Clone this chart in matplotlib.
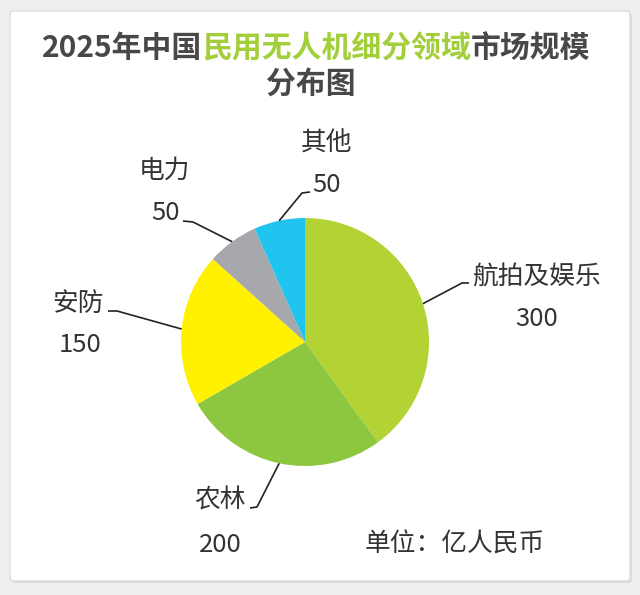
import matplotlib
matplotlib.use("Agg")
import matplotlib.pyplot as plt
from matplotlib.patches import FancyBboxPatch
import numpy as np

plt.rcParams['font.family'] = ['Noto Sans CJK SC', 'DejaVu Sans']

categories = ['航拍及娱乐', '农林', '安防', '电力', '其他']
values = [300, 200, 150, 50, 50]
colors = ['#b3d234', '#8dc63f', '#fff100', '#a7a8ab', '#1fc4ef']
title_parts = [('2025年中国', '#484848'), ('民用无人机细分领域', '#a3cf3b'), ('市场规模', '#484848')]
title_line2 = '分布图'
unit_text = '单位：亿人民币'

# label layout in pixel coords (y measured from top): elbow, hook end, name pos, value pos, name ha
layout = [
    ((462, 283), (469, 283), (472, 278), (537, 319), 'left'),
    ((257, 507), (250, 508), (220, 501), (220, 545), 'center'),
    ((117, 311), (108, 311), (78, 304), (80, 345), 'center'),
    ((193, 222), (183, 221), (164, 171), (166, 213), 'center'),
    ((302, 193), (310, 192), (327, 144), (327, 185), 'center'),
]

W, H = 640, 595
fig = plt.figure(figsize=(W / 100, H / 100), dpi=100, facecolor='#eeeeee')
ax = fig.add_axes([0, 0, 1, 1])


def Y(y):
    return H - y


# card with a faint shadow
ax.add_patch(FancyBboxPatch((12, Y(583)), 620, 570, boxstyle='round,pad=0,rounding_size=4',
                            fc='#dcdcdc', ec='none', zorder=0))
ax.add_patch(FancyBboxPatch((10, Y(581)), 620, 570, boxstyle='round,pad=0,rounding_size=4',
                            fc='white', ec='#dddddd', lw=1, zorder=1))

cx, cy, r = 305, Y(342), 124
wedges, _ = ax.pie(values, colors=colors, startangle=90, counterclock=False,
                   center=(cx, cy), radius=r, wedgeprops=dict(linewidth=0, zorder=2))

lab_kw = dict(fontsize=18.5, color='#333333', va='center', zorder=4)
for w, name, val, (elbow, hook, npos, vpos, ha) in zip(wedges, categories, values, layout):
    mid = np.deg2rad((w.theta1 + w.theta2) / 2)
    x0, y0 = cx + r * np.cos(mid), cy + r * np.sin(mid)
    ax.plot([x0, elbow[0], hook[0]], [y0, Y(elbow[1]), Y(hook[1])],
            color='#222222', lw=1.2, zorder=3, solid_capstyle='butt')
    ax.text(npos[0], Y(npos[1]), name, ha=ha, **lab_kw)
    ax.text(vpos[0], Y(vpos[1]), str(val), ha='center', **lab_kw)

ax.text(455, Y(545), unit_text, ha='center', **lab_kw)

# title with a green middle part
fig.canvas.draw()
renderer = fig.canvas.get_renderer()
tkw = dict(fontsize=21.5, fontweight='bold', va='center', zorder=4)
pieces = []
for txt, col in title_parts:
    pieces.append(ax.text(0, Y(48), txt, color=col, ha='left', **tkw))
widths = [p.get_window_extent(renderer).width for p in pieces]
x = 316 - sum(widths) / 2
for p, wd in zip(pieces, widths):
    p.set_x(x)
    x += wd
ax.text(311, Y(84), title_line2, color='#484848', ha='center', **tkw)

ax.set_xlim(0, W)
ax.set_ylim(0, H)
ax.set_aspect('equal')
ax.axis('off')

fig.savefig('out.png', dpi=100, facecolor=fig.get_facecolor())
